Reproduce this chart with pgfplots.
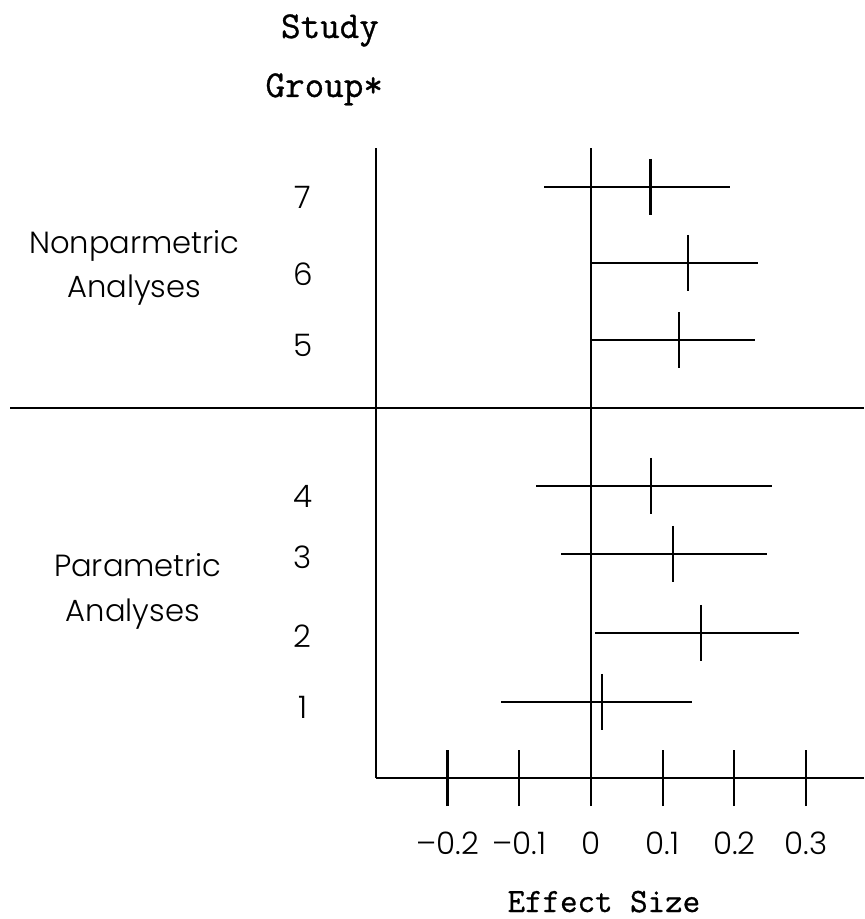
\documentclass[border=0pt]{standalone}
\usepackage{pgfplots}
\pgfplotsset{compat=1.18}
\usepackage{pgfplotstable}
\usepackage{fontspec}
\setmainfont{Poppins Light}
\newfontfamily\tw{Latin Modern Mono}[FakeBold=0.8]

\pgfplotstableread{
grp y lo est hi
1 76 -0.126 0.015 0.141
2 145 0.006 0.153 0.290
3 224 -0.042 0.114 0.246
4 292 -0.077 0.084 0.252
5 438 0.000 0.123 0.229
6 515 0.000 0.135 0.233
7 591 -0.065 0.083 0.194
}\forestdata

\begin{document}
\begin{tikzpicture}
\begin{axis}[
  scale only axis, width=244.1pt, height=315pt,
  xmin=-0.3, xmax=0.381, ymin=0, ymax=630,
  axis x line=bottom, axis y line=left,
  axis line style={-, line width=1.1pt, black},
  clip=false,
  xtick={-0.2,-0.1,0,0.1,0.2,0.3},
  xticklabels={–0.2,–0.1,0,0.1,0.2,0.3},
  xtick align=center,
  x tick style={line width=1.1pt, black},
  major tick length=28pt,
  ytick={71,142,221,282,433,504,581},
  yticklabels={1,2,3,4,5,6,7},
  y tick style={draw=none},
  tick label style={font=\fontsize{15.5}{18}\selectfont},
  xticklabel style={anchor=center, yshift=-18.5pt},
  yticklabel style={anchor=center, xshift=-22.5pt},
  xlabel={Effect Size},
  xlabel style={font=\tw\fontsize{17}{20}\selectfont, at={(axis description cs:0.467,-0.2127)}, anchor=base},
]
\addplot[black, line width=1.1pt, mark=|, mark size=14pt, only marks,
  mark options={line width=1.1pt},
  error bars/.cd, x dir=both, x explicit, error mark=none,
  error bar style={line width=1.1pt, black}]
  table[x=est, y=y, x error plus expr=\thisrow{hi}-\thisrow{est}, x error minus expr=\thisrow{est}-\thisrow{lo}] {\forestdata};
\addplot[black, line width=1.1pt] coordinates {(0,0) (0,630)};
\addplot[black, line width=1.1pt] coordinates {(-0.81,370) (0.381,370)};
\node[font=\tw\fontsize{19}{22}\selectfont, anchor=base] at (axis cs:-0.364,740) {Study};
\node[font=\tw\fontsize{19}{22}\selectfont, anchor=base] at (axis cs:-0.372,681) {Group*};
\node[font=\fontsize{15.3}{18}\selectfont, anchor=base] at (axis cs:-0.637,524) {Nonparmetric};
\node[font=\fontsize{15.3}{18}\selectfont, anchor=base] at (axis cs:-0.637,480) {Analyses};
\node[font=\fontsize{15.3}{18}\selectfont, anchor=base] at (axis cs:-0.632,201) {Parametric};
\node[font=\fontsize{15.3}{18}\selectfont, anchor=base] at (axis cs:-0.639,156) {Analyses};
\coordinate (tl) at (axis cs:-0.8243,778);
\coordinate (br) at (axis cs:0.3822,-141);
\end{axis}
\pgfresetboundingbox
\path (tl) rectangle (br);
\end{tikzpicture}
\end{document}
